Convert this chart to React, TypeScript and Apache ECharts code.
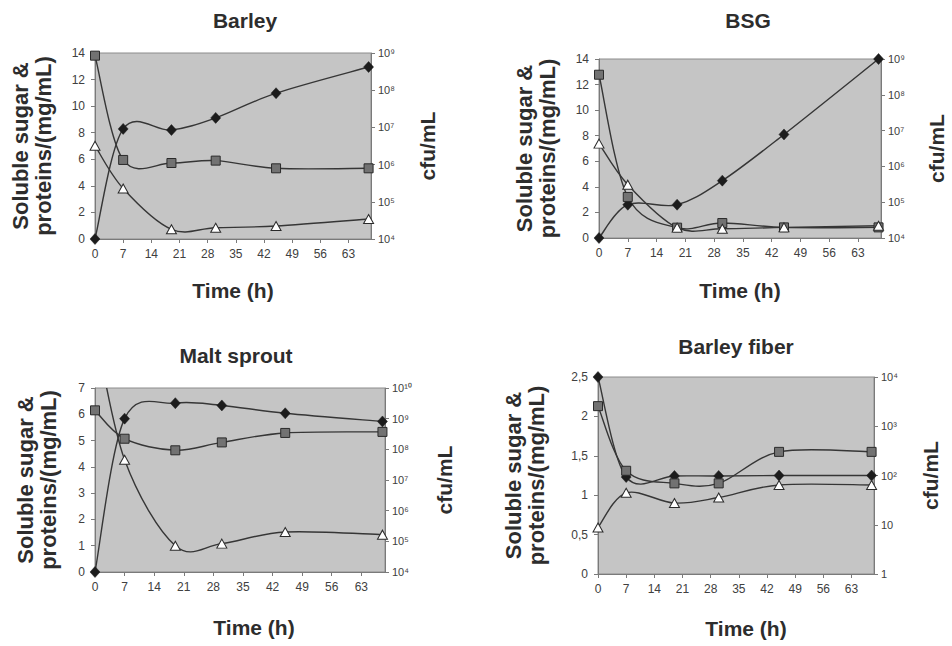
import React, { useEffect, useRef } from "react";
import * as echarts from "echarts";

// Sampling times (h)
const timeHours = [0, 7, 19, 30, 45, 68];

// Barley
const barleySugar = [13.8, 5.95, 5.72, 5.9, 5.32, 5.32];
const barleyProtein = [7.02, 3.8, 0.73, 0.85, 0.98, 1.5];
const barleyCfu = [1e4, 9.1e6, 8.5e6, 1.8e7, 8.3e7, 4.2e8];

// BSG
const bsgSugar = [12.77, 3.21, 0.81, 1.17, 0.83, 0.83];
const bsgProtein = [7.38, 4.17, 0.81, 0.72, 0.83, 0.96];
const bsgCfu = [1e4, 8.5e4, 8.5e4, 4.0e5, 7.8e6, 1e9];

// Malt sprout
const maltSugar = [6.15, 5.07, 4.63, 4.93, 5.29, 5.33];
const maltProtein = [9.3, 4.27, 1.0, 1.08, 1.52, 1.42];
const maltCfu = [1e4, 1e9, 3.2e9, 2.7e9, 1.5e9, 8.1e8];

// Barley fiber
const fiberSugar = [2.13, 1.31, 1.15, 1.15, 1.55, 1.55];
const fiberProtein = [0.59, 1.03, 0.9, 0.97, 1.13, 1.13];
const fiberCfu = [1e4, 93, 98, 98, 100, 100];

const panelTitles = ["Barley", "BSG", "Malt sprout", "Barley fiber"];
const leftMaxes = [14, 14, 7, 2.5];
const leftSteps = [2, 2, 1, 0.5];
const cfuMins = [1e4, 1e4, 1e4, 1];
const cfuMaxes = [1e9, 1e9, 1e10, 1e4];
const timeMax = 68.6;
const timeStep = 7;

const FONT = "'Liberation Sans', Arial, Helvetica, sans-serif";
const SUP = "⁰¹²³⁴⁵⁶⁷⁸⁹";

function powLabel(v: number): string {
  const e = Math.round(Math.log10(v));
  if (e === 0) return "1";
  if (e === 1) return "10";
  return "10" + String(e).split("").map((d) => SUP[Number(d)]).join("");
}

const layouts = [
  { grid: { left: 95, top: 53, width: 276, height: 186 }, titleX: 240, titleY: 5, leftGap: 40, rightGap: 46, timeGap: 41, timeShift: 0, comma: false },
  { grid: { left: 599, top: 59, width: 282, height: 179 }, titleX: 743, titleY: 5, leftGap: 40, rightGap: 45, timeGap: 42, timeShift: 0, comma: false },
  { grid: { left: 95, top: 388, width: 290, height: 184 }, titleX: 231, titleY: 340, leftGap: 35, rightGap: 49, timeGap: 45, timeShift: 28, comma: false },
  { grid: { left: 598, top: 377, width: 276, height: 197 }, titleX: 731, titleY: 331, leftGap: 50, rightGap: 46, timeGap: 44, timeShift: 20, comma: true },
];

const panelData = [
  { sugar: barleySugar, protein: barleyProtein, cfu: barleyCfu },
  { sugar: bsgSugar, protein: bsgProtein, cfu: bsgCfu },
  { sugar: maltSugar, protein: maltProtein, cfu: maltCfu },
  { sugar: fiberSugar, protein: fiberProtein, cfu: fiberCfu },
];

const textColor = "#2d2d2d";
const tickColor = "#404040";
const axisColor = "#7a7a7a";
const lineColor = "#363636";

// Spreadsheet-style smoothed curve (Catmull-Rom Bezier) through the points, via the axes' scales
function curveSeries(name: string, xi: number, yi: number, vals: number[]) {
  return {
    name,
    type: "custom",
    coordinateSystem: "cartesian2d",
    xAxisIndex: xi,
    yAxisIndex: yi,
    data: timeHours.map((t, k) => [t, vals[k]]),
    encode: { x: 0, y: 1 },
    silent: true,
    z: 2,
    renderItem: (params: any, api: any) => {
      if (params.dataIndex !== 0) return null;
      const pts = timeHours.map((t, k) => api.coord([t, vals[k]]));
      let d = `M${pts[0][0]},${pts[0][1]}`;
      for (let k = 0; k < pts.length - 1; k++) {
        const p0 = pts[k - 1] || pts[k];
        const p1 = pts[k];
        const p2 = pts[k + 1];
        const p3 = pts[k + 2] || pts[k + 1];
        const c1x = p1[0] + (p2[0] - p0[0]) / 6;
        const c1y = p1[1] + (p2[1] - p0[1]) / 6;
        const c2x = p2[0] - (p3[0] - p1[0]) / 6;
        const c2y = p2[1] - (p3[1] - p1[1]) / 6;
        d += ` C${c1x},${c1y} ${c2x},${c2y} ${p2[0]},${p2[1]}`;
      }
      const cs = params.coordSys;
      return {
        type: "path",
        shape: { pathData: d },
        style: { fill: "none", stroke: lineColor, lineWidth: 1.4 },
        clipPath: {
          type: "rect",
          shape: { x: cs.x, y: cs.y, width: cs.width, height: cs.height },
        },
      };
    },
  };
}

function buildOption() {
  const grids: any[] = [];
  const titles: any[] = [];
  const xAxes: any[] = [];
  const yAxes: any[] = [];
  const series: any[] = [];

  layouts.forEach((L, i) => {
    grids.push({
      ...L.grid,
      show: true,
      backgroundColor: "#c5c5c5",
      borderColor: "#8c8c8c",
      borderWidth: 1,
      containLabel: false,
    });
    titles.push({
      text: panelTitles[i],
      left: L.titleX,
      top: L.titleY,
      textAlign: "center",
      textStyle: { fontFamily: FONT, fontSize: 21, fontWeight: "bold", color: textColor },
    });
    xAxes.push({
      type: "value",
      gridIndex: i,
      min: 0,
      max: timeMax,
      interval: timeStep,
      name: "Time (h)",
      nameLocation: "middle",
      nameGap: L.timeGap,
      nameTextStyle: {
        fontFamily: FONT,
        fontSize: 21,
        fontWeight: "bold",
        color: textColor,
        padding: [0, 0, 0, L.timeShift],
      },
      axisLine: { show: true, lineStyle: { color: axisColor, width: 1 } },
      axisTick: { show: true, length: 4, inside: false, lineStyle: { color: axisColor } },
      axisLabel: {
        fontFamily: FONT,
        fontSize: 12,
        color: tickColor,
        margin: 9,
        showMaxLabel: false,
      },
      splitLine: { show: false },
    });
    yAxes.push({
      type: "value",
      gridIndex: i,
      position: "left",
      min: 0,
      max: leftMaxes[i],
      interval: leftSteps[i],
      name: "Soluble sugar &\nproteins/(mg/mL)",
      nameLocation: "middle",
      nameRotate: 90,
      nameGap: L.leftGap,
      nameTextStyle: {
        fontFamily: FONT,
        fontSize: 22,
        fontWeight: "bold",
        color: textColor,
        lineHeight: 23,
      },
      axisLine: { show: true, lineStyle: { color: axisColor, width: 1 } },
      axisTick: { show: true, length: 4, lineStyle: { color: axisColor } },
      axisLabel: {
        fontFamily: FONT,
        fontSize: 12,
        color: tickColor,
        margin: 10,
        formatter: (v: number) => (L.comma ? String(v).replace(".", ",") : String(v)),
      },
      splitLine: { show: false },
    });
    yAxes.push({
      type: "log",
      logBase: 10,
      gridIndex: i,
      position: "right",
      min: cfuMins[i],
      max: cfuMaxes[i],
      name: "cfu/mL",
      nameLocation: "middle",
      nameRotate: 90,
      nameGap: L.rightGap,
      nameTextStyle: { fontFamily: FONT, fontSize: 21, fontWeight: "bold", color: textColor },
      axisLine: { show: true, lineStyle: { color: axisColor, width: 1 } },
      axisTick: { show: true, length: 4, lineStyle: { color: axisColor } },
      axisLabel: {
        fontFamily: FONT,
        fontSize: 11,
        color: tickColor,
        margin: 7,
        formatter: (v: number) => powLabel(v),
      },
      splitLine: { show: false },
      minorTick: { show: false },
    });

    const D = panelData[i];
    const mk = (vals: number[]) => timeHours.map((t, k) => [t, vals[k]]);

    series.push(curveSeries(panelTitles[i] + " cfu curve", i, 2 * i + 1, D.cfu));
    series.push(curveSeries(panelTitles[i] + " soluble sugar curve", i, 2 * i, D.sugar));
    series.push(curveSeries(panelTitles[i] + " proteins curve", i, 2 * i, D.protein));

    series.push({
      name: panelTitles[i] + " cfu",
      type: "scatter",
      xAxisIndex: i,
      yAxisIndex: 2 * i + 1,
      data: mk(D.cfu),
      clip: true,
      symbol: "diamond",
      symbolSize: [10, 11],
      itemStyle: { color: "#1c1c1c", borderColor: "#1c1c1c", borderWidth: 0.5, opacity: 1 },
      z: 3,
    });
    series.push({
      name: panelTitles[i] + " soluble sugar",
      type: "scatter",
      xAxisIndex: i,
      yAxisIndex: 2 * i,
      data: mk(D.sugar),
      clip: true,
      symbol: "rect",
      symbolSize: 9,
      itemStyle: { color: "#727272", borderColor: "#2a2a2a", borderWidth: 1, opacity: 1 },
      z: 4,
    });
    series.push({
      name: panelTitles[i] + " proteins",
      type: "scatter",
      xAxisIndex: i,
      yAxisIndex: 2 * i,
      data: mk(D.protein),
      clip: true,
      symbol: "triangle",
      symbolSize: [10, 9],
      itemStyle: { color: "#ffffff", borderColor: "#2a2a2a", borderWidth: 1, opacity: 1 },
      z: 5,
    });
  });

  return {
    animation: false,
    backgroundColor: "#ffffff",
    title: titles,
    grid: grids,
    xAxis: xAxes,
    yAxis: yAxes,
    series,
  };
}

export default function App() {
  const ref = useRef<HTMLDivElement>(null);
  useEffect(() => {
    if (!ref.current) return;
    const chart = echarts.init(ref.current, undefined, { renderer: "svg" });
    chart.setOption(buildOption() as any);
    return () => {
      chart.dispose();
    };
  }, []);
  return (
    <div
      ref={ref}
      style={{ position: "fixed", left: 0, top: 0, width: 952, height: 646 }}
    />
  );
}
